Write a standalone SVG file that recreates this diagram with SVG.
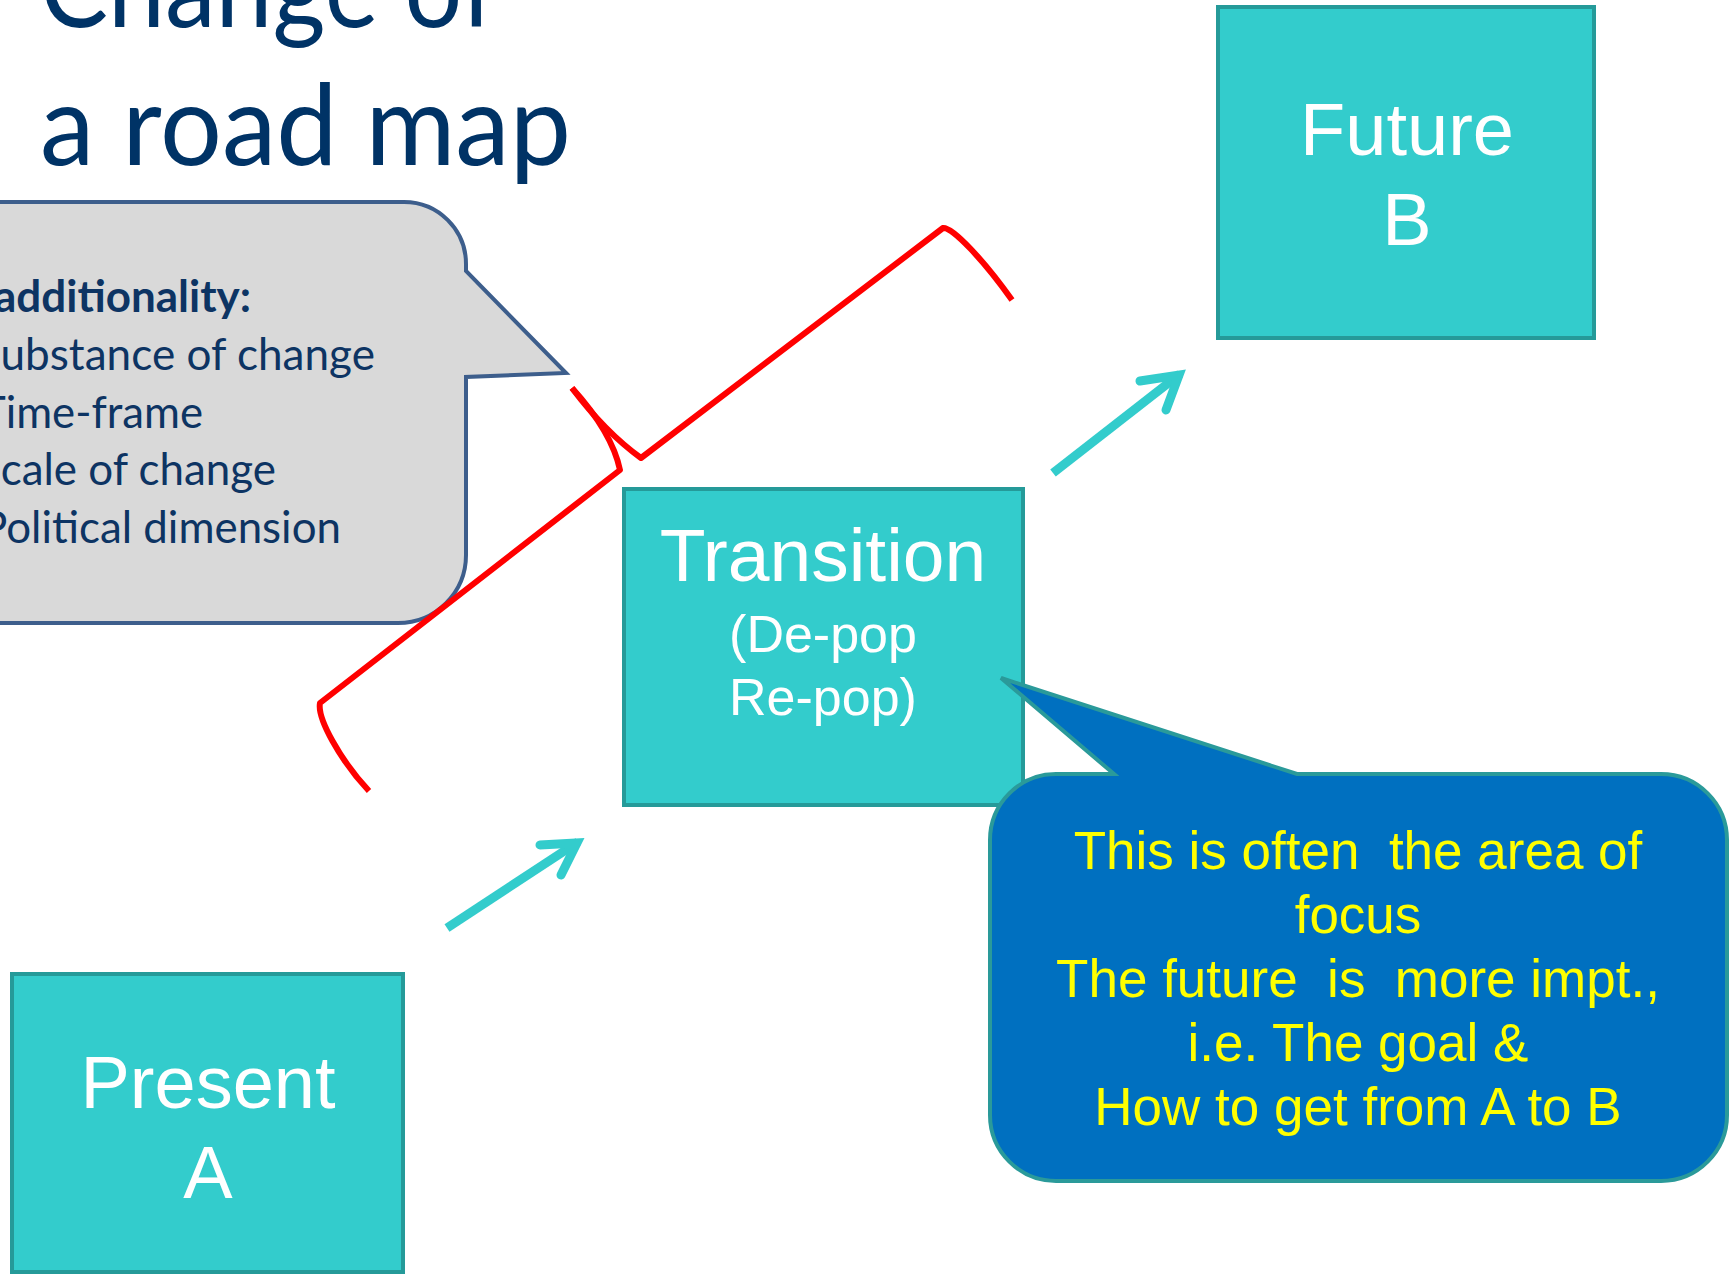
<svg xmlns="http://www.w3.org/2000/svg" width="1732" height="1275" viewBox="0 0 1732 1275">
  <style>
    .title { font-family: Lato, "Open Sans", "Liberation Sans", sans-serif; font-size: 112px; fill: #003366; }
    .note { font-family: Lato, "Open Sans", "Liberation Sans", sans-serif; font-size: 44px; fill: #0D3463; }
    .box { fill: #33CCCC; stroke: #259A99; stroke-width: 4; }
    .boxtext { font-family: "Liberation Sans", Arial, sans-serif; fill: #FFFFFF; text-anchor: middle; }
    .calltext { font-family: "Liberation Sans", Arial, sans-serif; font-size: 53px; fill: #FFFF00; text-anchor: middle; }
    .red { fill: none; stroke: #FF0000; stroke-width: 6; stroke-linejoin: round; stroke-linecap: butt; }
    .shaft { fill: none; stroke: #33CCCC; stroke-width: 9; stroke-linecap: butt; }
    .head { fill: none; stroke: #33CCCC; stroke-width: 9; stroke-linecap: round; stroke-linejoin: miter; stroke-miterlimit: 6; }
  </style>

  <g id="title">
    <text class="title" x="40" y="27" textLength="457" lengthAdjust="spacingAndGlyphs">Change of</text>
    <text class="title" x="40" y="165" textLength="531" lengthAdjust="spacingAndGlyphs">a road map</text>
  </g>

  <g id="additionality-callout">
    <path d="M-200,202 L404,202 A62,62 0 0 1 466,264 L466,271 L566,373 L466,377 L466,555 A68,68 0 0 1 398,623 L-200,623 Z" fill="#D9D9D9" stroke="#3D5E8C" stroke-width="4" stroke-linejoin="miter"/>
    <text class="note" x="-6" y="312" font-weight="bold" textLength="257" lengthAdjust="spacingAndGlyphs">additionality:</text>
    <text class="note" x="-23" y="370" textLength="398" lengthAdjust="spacingAndGlyphs">Substance of change</text>
    <text class="note" x="-20" y="428" textLength="223" lengthAdjust="spacingAndGlyphs">Time-frame</text>
    <text class="note" x="-23" y="485" textLength="299" lengthAdjust="spacingAndGlyphs">Scale of change</text>
    <text class="note" x="-19" y="543" textLength="360" lengthAdjust="spacingAndGlyphs">Political dimension</text>
  </g>

  <g id="red-bracket">
    <path class="red" d="M572,388 Q612,432 620,470 L320,703 C317,718 340,760 369,791"/>
    <path class="red" d="M572,388 Q605,432 641,458 L943,228 C952,226 985,262 1012,300"/>
  </g>

  <g id="present-a">
    <rect class="box" x="12" y="974" width="391" height="298"/>
    <text class="boxtext" x="208" y="1108" font-size="74">Present</text>
    <text class="boxtext" x="208" y="1198" font-size="74">A</text>
  </g>

  <g id="transition">
    <rect class="box" x="624" y="489" width="399" height="316"/>
    <text class="boxtext" x="823" y="581" font-size="75">Transition</text>
    <text class="boxtext" x="823" y="652" font-size="52">(De-pop</text>
    <text class="boxtext" x="823" y="715" font-size="52">Re-pop)</text>
  </g>

  <g id="future-b">
    <rect class="box" x="1218" y="7" width="376" height="331"/>
    <text class="boxtext" x="1407" y="155" font-size="74">Future</text>
    <text class="boxtext" x="1407" y="245" font-size="74">B</text>
  </g>

  <g id="connectors">
    <line class="shaft" x1="447" y1="928" x2="578" y2="842"/>
    <polyline class="head" points="540,845 577,843 561,875"/>
    <line class="shaft" x1="1053" y1="473" x2="1180" y2="374"/>
    <polyline class="head" points="1140,381 1179,375 1166,410"/>
  </g>

  <g id="focus-callout">
    <path d="M1056,774 L1114,774 L1001,678 L1297,774 L1661,774 A66,66 0 0 1 1727,840 L1727,1115 A66,66 0 0 1 1661,1181 L1056,1181 A66,66 0 0 1 990,1115 L990,840 A66,66 0 0 1 1056,774 Z" fill="#0070C0" stroke="#2A9A9A" stroke-width="4" stroke-linejoin="miter"/>
    <text class="calltext" x="1358" y="869" xml:space="preserve">This is often  the area of</text>
    <text class="calltext" x="1358" y="933">focus</text>
    <text class="calltext" x="1358" y="997" xml:space="preserve">The future  is  more impt.,</text>
    <text class="calltext" x="1358" y="1061">i.e. The goal &amp;</text>
    <text class="calltext" x="1358" y="1125">How to get from A to B</text>
  </g>
</svg>
